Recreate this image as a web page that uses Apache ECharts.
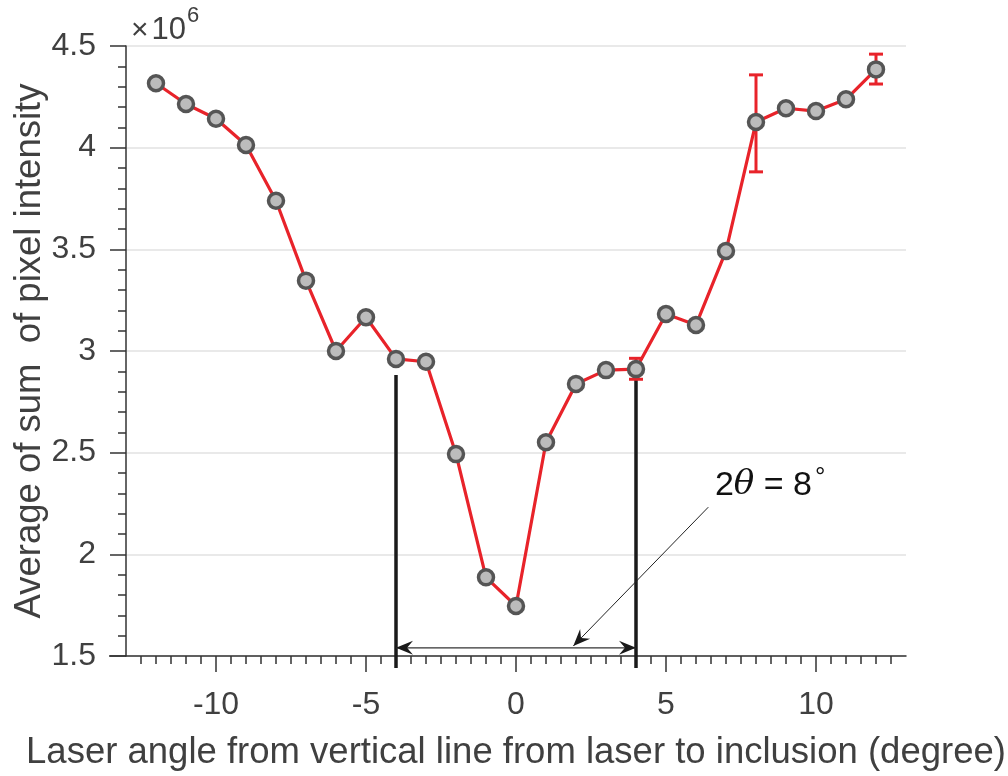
<!DOCTYPE html>
<html>
<head>
<meta charset="utf-8">
<script src="https://cdn.jsdelivr.net/npm/echarts@6/dist/echarts.min.js"></script>
</head>
<body style="margin:0;background:#fff">
<div id="main" style="width:1008px;height:776px;"></div>
<script>
// measured points
var angles = [-12, -11, -10, -9, -8, -7, -6, -5, -4, -3, -2, -1, 0, 1, 2, 3, 4, 5, 6, 7, 8, 9, 10, 11, 12];
var intensity = [4.317, 4.215, 4.142, 4.013, 3.739, 3.346, 3.0, 3.166, 2.961, 2.947, 2.493, 1.887, 1.746,
                 2.551, 2.838, 2.906, 2.911, 3.182, 3.128, 3.492, 4.126, 4.194, 4.180, 4.238, 4.385];

// error bars (only three are visible)
var errAngles = [4, 8, 12];
var errLow = [2.861, 3.881, 4.313];
var errHigh = [2.964, 4.358, 4.460];

// the 2-theta marker lines and arrows
var markAngles = [-4, 4];
var markTop = 2.882;
var spanLevel = 1.54;
var noteFrom = [6.41, 2.232];
var noteTo = [1.91, 1.549];
var notePos = [6.63, 2.34];

var xLabels = [-10, -5, 0, 5, 10];
var xMinor = [];
for (var v = -12.5; v <= 12.5; v += 0.5) xMinor.push(v);

var red = '#e8232a';
var ink = '#404040';
var font = '"Liberation Sans", Arial, sans-serif';

var myChart = echarts.init(document.getElementById('main'));

var option = {
    backgroundColor: '#fff',
    animation: false,
    title: {
        left: 126, top: 0,
        text: '{x|×}{b|10}{s|6}',
        textStyle: {
            rich: {
                x: {fontSize: 30, color: ink, fontFamily: font, fontWeight: 'normal', padding: [10, 3, 0, 0]},
                b: {fontSize: 31, color: ink, fontFamily: font, fontWeight: 'normal', padding: [10, 0, 0, 0]},
                s: {fontSize: 22, color: ink, fontFamily: font, fontWeight: 'normal', verticalAlign: 'top', padding: [0, 0, 16, 1]}
            }
        }
    },
    grid: {left: 126, top: 46, width: 780, height: 610, outerBoundsMode: 'none', containLabel: false},
    xAxis: [{
        type: 'value', position: 'bottom', min: -13, max: 13,
        name: 'Laser angle from vertical line from laser to inclusion (degree)',
        nameLocation: 'middle', nameGap: 78,
        nameTextStyle: {fontSize: 36.5, color: ink, fontFamily: font},
        axisLine: {onZero: false, lineStyle: {color: '#333', width: 1.5}},
        axisTick: {customValues: xLabels, length: 16, lineStyle: {color: '#333', width: 1.5}},
        axisLabel: {customValues: xLabels, fontSize: 32, color: ink, fontFamily: font, margin: 33},
        splitLine: {show: false}
    }, {
        type: 'value', position: 'bottom', min: -13, max: 13,
        axisLine: {show: false, onZero: false},
        axisTick: {customValues: xMinor, length: 8, lineStyle: {color: '#333', width: 1.5}},
        axisLabel: {show: false},
        splitLine: {show: false}
    }],
    yAxis: {
        type: 'value', min: 1.5, max: 4.5, interval: 0.5,
        name: 'Average of sum  of pixel intensity',
        nameLocation: 'middle', nameGap: 78, nameRotate: 90, nameMoveOverlap: false,
        nameTextStyle: {fontSize: 36.5, color: ink, fontFamily: font},
        axisLine: {show: true, onZero: false, lineStyle: {color: '#333', width: 1.5}},
        axisTick: {length: 16, lineStyle: {color: '#333', width: 1.5}},
        minorTick: {show: true, splitNumber: 5, length: 8, lineStyle: {color: '#333', width: 1.5}},
        axisLabel: {fontSize: 32, color: ink, fontFamily: font, margin: 30,
            formatter: function (v) { return String(v); }},
        splitLine: {lineStyle: {color: '#e2e2e2', width: 1.5}}
    },
    series: [{
        // black vertical marker lines
        type: 'custom', z: 1,
        data: markAngles.map(function (a) { return [a, markTop]; }),
        renderItem: function (params, api) {
            var top = api.coord([api.value(0), api.value(1)]);
            var bottom = params.coordSys.y + params.coordSys.height + 12;
            return {type: 'line', shape: {x1: top[0], y1: top[1], x2: top[0], y2: bottom},
                style: {stroke: '#1a1a1a', lineWidth: 3.5}};
        }
    }, {
        // double arrow between the two lines + annotation
        type: 'custom', z: 4,
        data: [[markAngles[0], markAngles[1], spanLevel]],
        renderItem: function (params, api) {
            var a = api.coord([api.value(0), api.value(2)]);
            var b = api.coord([api.value(1), api.value(2)]);
            var p = api.coord(noteFrom), q = api.coord(noteTo), t = api.coord(notePos);
            function head(tip, from, len, half) {
                var dx = tip[0] - from[0], dy = tip[1] - from[1];
                var d = Math.sqrt(dx * dx + dy * dy); dx /= d; dy /= d;
                var bx = tip[0] - dx * len, by = tip[1] - dy * len;
                var nx = tip[0] - dx * len * 0.65, ny = tip[1] - dy * len * 0.65;
                return {type: 'polygon', shape: {points: [tip, [bx - dy * half, by + dx * half], [nx, ny], [bx + dy * half, by - dx * half]]},
                    style: {fill: '#1a1a1a'}};
            }
            return {type: 'group', children: [
                {type: 'line', shape: {x1: a[0], y1: a[1], x2: b[0], y2: b[1]}, style: {stroke: '#333', lineWidth: 1.3}},
                head(a, b, 17, 7),
                head(b, a, 17, 7),
                {type: 'line', shape: {x1: p[0], y1: p[1], x2: q[0], y2: q[1]}, style: {stroke: '#222', lineWidth: 1}},
                head(q, p, 17, 7),
                {type: 'text', x: t[0], y: t[1], style: {
                    text: '{n|2}{th|θ}{n| = 8}{d|°}', align: 'left', verticalAlign: 'middle',
                    rich: {
                        n: {fontSize: 34, fill: '#111', fontFamily: font},
                        th: {fontSize: 34, fill: '#111', fontFamily: '"DejaVu Serif", serif', fontStyle: 'italic'},
                        d: {fontSize: 26, fill: '#111', fontFamily: font, verticalAlign: 'top', padding: [0, 0, 14, 3]}
                    }
                }}
            ]};
        }
    }, {
        // error bars
        type: 'custom', z: 2,
        data: errAngles.map(function (a, i) { return [a, errLow[i], errHigh[i]]; }),
        renderItem: function (params, api) {
            var lo = api.coord([api.value(0), api.value(1)]);
            var hi = api.coord([api.value(0), api.value(2)]);
            var w = 7, st = {stroke: red, lineWidth: 3};
            return {type: 'group', children: [
                {type: 'line', shape: {x1: lo[0], y1: lo[1], x2: hi[0], y2: hi[1]}, style: st},
                {type: 'line', shape: {x1: lo[0] - w, y1: lo[1], x2: lo[0] + w, y2: lo[1]}, style: st},
                {type: 'line', shape: {x1: hi[0] - w, y1: hi[1], x2: hi[0] + w, y2: hi[1]}, style: st}
            ]};
        }
    }, {
        type: 'line', z: 3,
        data: angles.map(function (a, i) { return [a, intensity[i]]; }),
        symbol: 'circle', symbolSize: 15,
        lineStyle: {color: red, width: 3.2},
        itemStyle: {color: '#bcbcbc', borderColor: '#555', borderWidth: 3.5}
    }]
};

myChart.setOption(option);

// x axis line continues a little to the left of the y axis
myChart.setOption({
    graphic: [{type: 'line', shape: {x1: 109, y1: 656, x2: 126, y2: 656}, style: {stroke: '#333', lineWidth: 1.5}}]
});
</script>
</body>
</html>
